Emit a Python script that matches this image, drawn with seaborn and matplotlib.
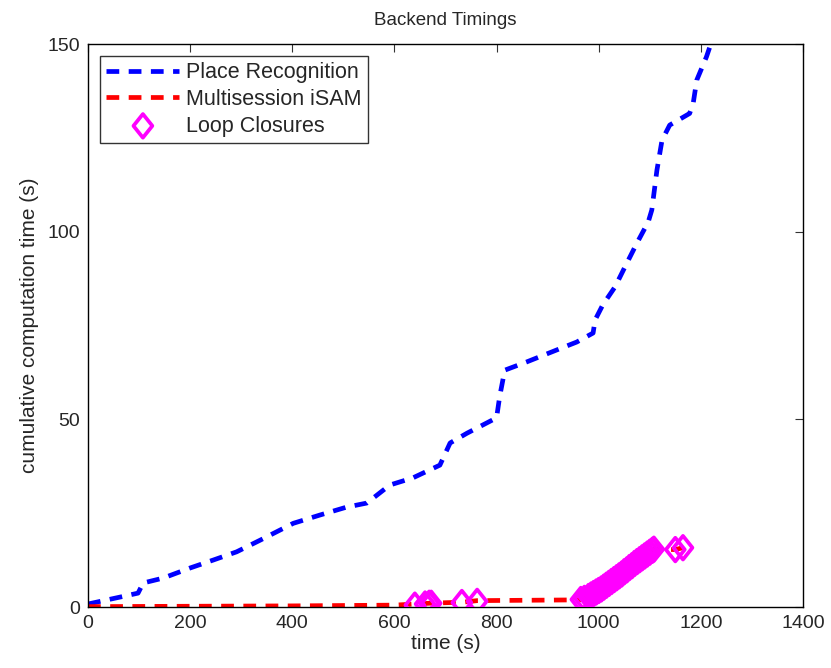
import matplotlib
matplotlib.use("Agg")
import matplotlib.pyplot as plt
from matplotlib.path import Path
import seaborn as sns
import pandas as pd

# Place Recognition cumulative time
pr_time = [0, 68, 98, 108, 147, 200, 245, 291, 337, 402, 454, 506, 546, 591, 636,
           689, 709, 742, 800, 806, 816, 859, 918, 957, 989, 993, 1008, 1032, 1055,
           1075, 1097, 1104, 1114, 1124, 1139, 1178, 1185, 1192, 1211, 1222]
pr_cost = [0.8, 2.8, 3.7, 6.4, 7.7, 10.4, 12.5, 14.7, 17.8, 22.3, 24.5, 26.6, 27.7,
           32.5, 34.4, 37.8, 43.7, 46.3, 50.4, 56.0, 63.1, 65.3, 68.5, 70.6, 73.0,
           76.5, 80.5, 85.3, 91.6, 97.0, 102.6, 105.8, 116.4, 124.4, 128.4, 131.5,
           134.2, 140.4, 146.6, 151.0]

# Loop closures
lc_time = [640, 660, 668, 672, 732, 762,
           965, 972, 980, 985, 990, 995, 1000, 1005, 1010, 1015, 1020, 1025, 1030,
           1035, 1040, 1045, 1050, 1055, 1060, 1065, 1070, 1075, 1080, 1085, 1090,
           1095, 1100, 1105, 1108, 1150, 1165]
lc_cost = [0.5, 0.8, 1.0, 1.0, 1.2, 1.5,
           2.0, 2.3, 2.8, 3.2, 3.6, 4.0, 4.4, 4.8, 5.3, 5.8, 6.3, 6.8, 7.3,
           7.8, 8.3, 8.8, 9.4, 9.9, 10.5, 11.0, 11.6, 12.1, 12.6, 13.1, 13.6,
           14.1, 14.6, 15.1, 15.4, 15.3, 15.8]

# Multisession iSAM cumulative time
isam_time = [0, 200, 400, 600, 640, 668, 735, 762, 960] + lc_time[6:35] + [1150, 1165]
isam_cost = [0.1, 0.2, 0.3, 0.5, 0.8, 1.0, 1.3, 1.7, 1.9] + lc_cost[6:35] + [15.3, 15.8]

sns.set_style("white")
plt.rcParams['font.family'] = ['Liberation Sans', 'DejaVu Sans']

fig = plt.figure(figsize=(8.31, 6.68), dpi=100)
ax = fig.add_axes([0.1059, 0.0913, 0.8604, 0.8428])

df_pr = pd.DataFrame({"t": pr_time, "c": pr_cost})
df_is = pd.DataFrame({"t": isam_time, "c": isam_cost})
df_lc = pd.DataFrame({"t": lc_time, "c": lc_cost})

dash = (0, (2.7, 2.0))
sns.lineplot(data=df_pr, x="t", y="c", ax=ax, sort=False, estimator=None,
             color="#0000ff", linewidth=3.4, label="Place Recognition")
ax.lines[-1].set_linestyle(dash)
sns.lineplot(data=df_is, x="t", y="c", ax=ax, sort=False, estimator=None,
             color="#ff0000", linewidth=3.4, label="Multisession iSAM")
ax.lines[-1].set_linestyle(dash)
for ln in ax.lines:
    ln.set_dash_capstyle("butt")
    ln.set_solid_capstyle("butt")

diamond = Path([(0, 1), (0.8, 0), (0, -1), (-0.8, 0), (0, 1)],
               [Path.MOVETO, Path.LINETO, Path.LINETO, Path.LINETO, Path.CLOSEPOLY])
sns.scatterplot(data=df_lc, x="t", y="c", ax=ax, marker=diamond, s=17 ** 2,
                facecolor="none", edgecolor="#ff00ff", linewidth=2.7,
                label="Loop Closures", zorder=3)

ax.set_xlim(0, 1400)
ax.set_ylim(0, 150)
ax.set_xticks([0, 200, 400, 600, 800, 1000, 1200, 1400])
ax.set_yticks([0, 50, 100, 150])
ax.tick_params(direction="in", length=6, width=0.8, top=True, right=True,
               labelsize=14, pad=6, color="#333333")
for s in ax.spines.values():
    s.set_visible(True)
    s.set_color("black")
    s.set_linewidth(1.0)

ax.set_xlabel("time (s)", fontsize=15, labelpad=1)
ax.set_ylabel("cumulative computation time (s)", fontsize=15, labelpad=6)
ax.set_title("Backend Timings", fontsize=13.5, pad=14)

leg = ax.legend(loc="upper left", fontsize=15.5, frameon=True, fancybox=False,
                edgecolor="black", handlelength=3.4, borderpad=0.3,
                labelspacing=0.26, handletextpad=0.3, borderaxespad=0.55)
leg.get_frame().set_linewidth(1.0)
for h in leg.legend_handles:
    try:
        h.set_dash_capstyle("butt")
    except Exception:
        pass

fig.savefig("out.png", dpi=100)
